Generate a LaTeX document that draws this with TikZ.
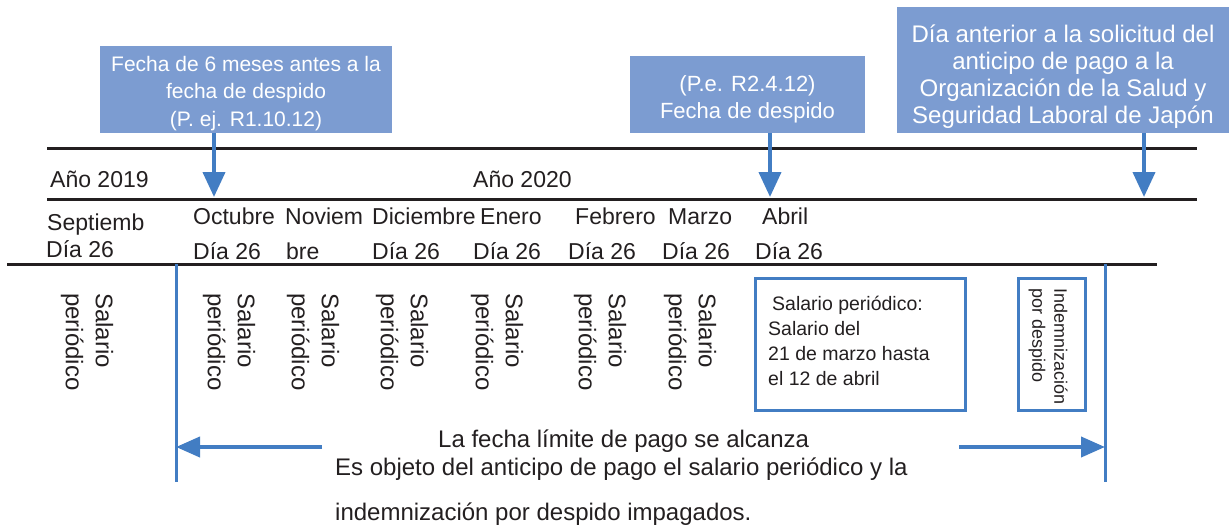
\documentclass[tikz,border=0pt]{standalone}
\usepackage{fontspec}
\setmainfont{Liberation Sans}
\usetikzlibrary{arrows.meta}
\definecolor{calloutblue}{RGB}{124,156,209}
\definecolor{markblue}{RGB}{66,125,195}
\definecolor{inkgray}{RGB}{35,31,32}
\newcommand{\fsz}[2]{\fontsize{#1}{#2}\selectfont}

\begin{document}
\begin{tikzpicture}[x=1pt, y=-1pt,
    callout/.style={fill=calloutblue, text=white, align=center, inner sep=0pt},
    pointer/.style={draw=markblue, line width=4pt, -{Triangle[length=25pt, width=22pt]}},
    span/.style={draw=markblue, line width=4pt, -{Triangle[length=24pt, width=20pt]}},
    rule/.style={draw=inkgray, line width=3pt},
    limit/.style={draw=markblue, line width=3pt},
    lbl/.style={text=inkgray, inner sep=0pt, anchor=base west, font=\fsz{23}{28}},
    vlbl/.style={text=inkgray, inner sep=0pt, rotate=-90, anchor=west, align=left, font=\fsz{24}{30}},
    frame/.style={draw=markblue, line width=3pt, inner sep=0pt}]
            \useasboundingbox (0,0) rectangle (1229,525);
            \draw[rule] (47,148) -- (1197,148);
            \draw[rule] (47,199) -- (1197,199);
            \draw[rule] (7,264) -- (1157,264);

            \node[callout, minimum width=292pt, minimum height=87pt, font=\fsz{21}{27.5}] (before) at (246,89.5)
                {\rule{0pt}{23pt}Fecha de 6 meses antes a la\\fecha de despido\\(P. ej. R1.10.12)};
            \node[callout, minimum width=235pt, minimum height=77pt, font=\fsz{22}{27}] (dismissal) at (747.5,94.5)
                {\rule{0pt}{26pt}(P.e. R2.4.12)\\Fecha de despido};
            \node[callout, minimum width=332pt, minimum height=126pt, font=\fsz{24}{27}] (request) at (1063,70)
                {\rule{0pt}{30pt}Día anterior a la solicitud del\\anticipo de pago a la\\Organización de la Salud y\\Seguridad Laboral de Japón};
            \coordinate (d1) at (214,197);
            \coordinate (d2) at (770,197);
            \coordinate (d3) at (1144,197);
            \draw[pointer] (before.south -| d1) -- (d1);
            \draw[pointer] (dismissal.south -| d2) -- (d2);
            \draw[pointer] (request.south -| d3) -- (d3);

            \node[lbl] (yr19) at (50,187) {Año 2019};
            \node[lbl] (yr20) at (473,187) {Año 2020};
            \node[lbl] (sep) at (47,230) {Septiemb};
            \node[lbl] (sepd) at (46,257) {Día 26};
            \node[lbl] (oct) at (193,224) {Octubre};
            \node[lbl] (octd) at (193,259) {Día 26};
            \node[lbl] (nov) at (285,224) {Noviem};
            \node[lbl] (novd) at (286,259) {bre};
            \node[lbl] (dic) at (372,224) {Diciembre};
            \node[lbl] (dicd) at (372,259) {Día 26};
            \node[lbl] (ene) at (480,224) {Enero};
            \node[lbl] (ened) at (473,259) {Día 26};
            \node[lbl] (feb) at (575,224) {Febrero};
            \node[lbl] (febd) at (568,259) {Día 26};
            \node[lbl] (mar) at (668,224) {Marzo};
            \node[lbl] (mard) at (662,259) {Día 26};
            \node[lbl] (abr) at (762,224) {Abril};
            \node[lbl] (abrd) at (755,259) {Día 26};

            \foreach \x/\m in {87/sep, 229/oct, 313/nov, 402/dic, 497/ene, 600/feb, 690/mar}
                \node[vlbl] (sal-\m) at (\x,293) {Salario\\periódico};

            \node[frame, minimum width=210pt, minimum height=132pt] (salbox) at (860,344) {};
            \node[text=inkgray, inner sep=0pt, align=left, anchor=north west, font=\fsz{19.5}{25}] (saltext) at (768,296)
                {\hspace{4pt}Salario periódico:\\Salario del\\21 de marzo hasta\\el 12 de abril};
            \node[frame, minimum width=67pt, minimum height=132pt] (indbox) at (1051.5,344) {};
            \node[vlbl, font=\fsz{18}{22}] (indtext) at (1048,288) {Indemnización\\por despido};

            \draw[limit] (176,264) -- (176,482);
            \draw[limit] (1105,264) -- (1105,482);
            \coordinate (limL) at (176,447);
            \coordinate (limR) at (1105,447);
            \coordinate (spanL) at (322,447);
            \coordinate (spanR) at (959,447);
            \draw[span] (spanL) -- (limL);
            \draw[span] (spanR) -- (limR);

            \node[lbl, font=\fsz{24}{28}] (reached) at (438,447) {La fecha límite de pago se alcanza};
            \node[lbl, font=\fsz{24}{28}] (object) at (335,475) {Es objeto del anticipo de pago el salario periódico y la};
            \node[lbl, font=\fsz{24}{28}] (unpaid) at (335,520) {indemnización por despido impagados.};
\end{tikzpicture}
\end{document}
